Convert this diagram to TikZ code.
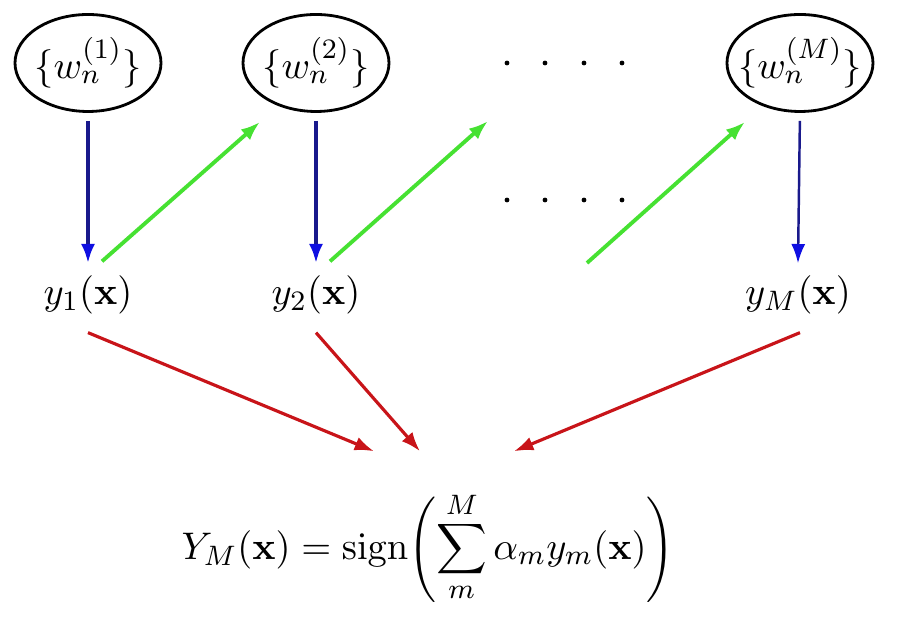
\documentclass[tikz,border=0pt]{standalone}
\usetikzlibrary{shapes.geometric,arrows.meta}
\definecolor{bluearrow}{RGB}{25,25,140}
\definecolor{bluetip}{RGB}{15,15,225}
\definecolor{greenarrow}{RGB}{70,225,50}
\definecolor{redarrow}{RGB}{200,20,25}
\begin{document}
\begin{tikzpicture}[x=0.1mm, y=-0.1mm, every node/.style={font=\fontsize{11}{13}\selectfont},
    wset/.style={draw, thick, ellipse, minimum width=1.46cm, minimum height=0.97cm, inner xsep=-6pt, inner ysep=-3pt},
    down/.style={draw=bluearrow, line width=1.1pt, -{Latex[length=5.5pt,width=4pt,color=bluetip]}, shorten <=2.3pt},
    pass/.style={draw=greenarrow, line width=1.1pt, -{Latex[length=5.5pt,width=4pt]}},
    vote/.style={draw=redarrow, line width=0.9pt, -{Latex[length=5.5pt,width=4pt]}}]
    \useasboundingbox (0,0) rectangle (910,630);
    \node[wset] (w1) at (88,63)  {$\{w_n^{(1)}\}$};
    \node[wset] (w2) at (316,63) {$\{w_n^{(2)}\}$};
    \node[wset] (wM) at (800,63) {$\{w_n^{(M)}\}$};
    \node (y1) at (88,295)  {$y_1(\mathbf{x})$};
    \node (y2) at (316,295) {$y_2(\mathbf{x})$};
    \node (yM) at (798,295) {$y_M(\mathbf{x})$};
    \node[font=\fontsize{11.4}{14}\selectfont] (Y) at (428,547) {$\displaystyle Y_M(\mathbf{x}) = \mathrm{sign}\!\left(\sum_{m}^{M}\alpha_m y_m(\mathbf{x})\right)$};
    \foreach \x in {507, 545, 584, 622} {
        \fill (\x,63) circle (2.4);
        \fill (\x,200) circle (2.4);
    }
    \coordinate (gap2) at (488,121);
    \coordinate (gapM) at (587,263);
    \draw[down] (w1.south) -- (y1.north);
    \draw[down] (w2.south) -- (y2.north);
    \draw[down, line width=0.7pt] (wM.south) -- (yM.north);
    \draw[pass] ([shift={(14,-2)}]y1.north) -- ([shift={(-56,9)}]w2.south);
    \draw[pass] ([shift={(14,-2)}]y2.north) -- (gap2);
    \draw[pass] (gapM) -- ([shift={(-55,9)}]wM.south);
    \draw[vote] ([shift={(0,6)}]y1.south) -- ([shift={(-54,-28)}]Y.north);
    \draw[vote] ([shift={(0,6)}]y2.south) -- ([shift={(-8,-28)}]Y.north);
    \draw[vote] ([shift={(2,6)}]yM.south) -- ([shift={(86,-28)}]Y.north);
\end{tikzpicture}
\end{document}
